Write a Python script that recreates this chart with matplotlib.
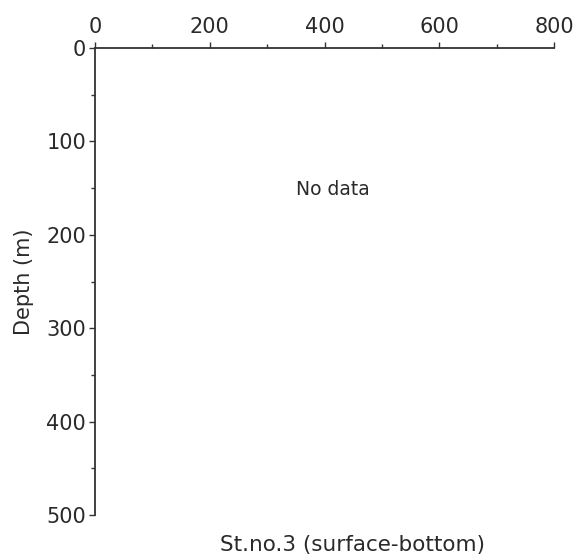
import matplotlib
matplotlib.use("Agg")
import matplotlib.pyplot as plt
from matplotlib.ticker import MultipleLocator

x_ticks = [0, 200, 400, 600, 800]
y_ticks = [0, 100, 200, 300, 400, 500]
x_label_note = "No data"
caption = "St.no.3 (surface-bottom)"
ylabel = "Depth (m)"

plt.rcParams['font.family'] = ['DejaVu Sans']
fig = plt.figure(figsize=(5.76, 5.6), dpi=100)
ax = fig.add_axes([95/576, 1-515/560, (554-95)/576, (515-48)/560])
ax.set_xlim(0, 800)
ax.set_ylim(500, 0)
ax.xaxis.tick_top()
ax.set_xticks(x_ticks)
ax.set_yticks(y_ticks)
ax.xaxis.set_minor_locator(MultipleLocator(100))
ax.yaxis.set_minor_locator(MultipleLocator(50))
col = '#333333'
tcol = '#2a2a2a'
for s in ['right', 'bottom']:
    ax.spines[s].set_visible(False)
for s in ['top', 'left']:
    ax.spines[s].set_color(col)
    ax.spines[s].set_linewidth(1.3)
ax.tick_params(which='major', length=4.5, width=1.0, color=col, labelsize=15, labelcolor=tcol, pad=2)
ax.tick_params(axis='x', which='major', pad=3.5)
ax.tick_params(which='minor', length=3, width=1.0, color=col)
ax.set_ylabel(ylabel, fontsize=15, color=tcol, labelpad=9)
ax.text(415, 152, x_label_note, fontsize=13.5, color=tcol, ha='center', va='center')
fig.text(352/576, 1-545/560, caption, fontsize=15.5, color=tcol, ha='center', va='center')
fig.savefig("out.png", dpi=100)
